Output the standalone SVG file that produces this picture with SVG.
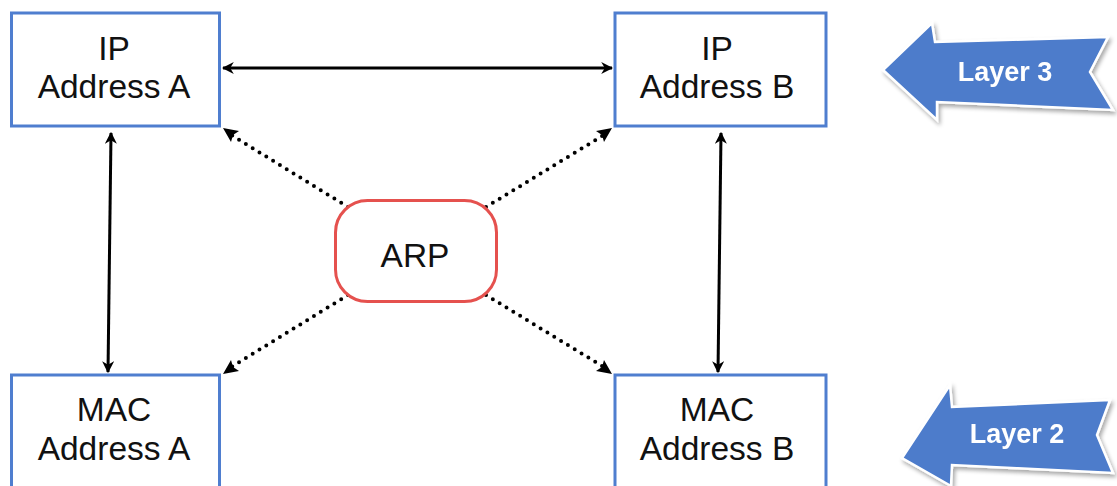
<svg xmlns="http://www.w3.org/2000/svg" width="1117" height="486" viewBox="0 0 1117 486">
  <defs>
    <marker id="ah" viewBox="0 0 10 10" refX="9" refY="5" markerWidth="4" markerHeight="4" orient="auto-start-reverse" markerUnits="strokeWidth">
      <path d="M0,0 L10,5 L0,10 L3,5 Z" fill="#000"/>
    </marker>
    <filter id="shadow" x="-10%" y="-20%" width="125%" height="150%">
      <feGaussianBlur in="SourceAlpha" stdDeviation="2"/>
      <feOffset dx="2" dy="3" result="b"/>
      <feComponentTransfer><feFuncA type="linear" slope="0.35"/></feComponentTransfer>
      <feMerge><feMergeNode/><feMergeNode in="SourceGraphic"/></feMerge>
    </filter>
  </defs>
  <style>
    .box { fill: #fff; stroke: #4F7ECF; stroke-width: 3; }
    .arp { fill: #fff; stroke: #E5514E; stroke-width: 3; }
    .lbl { font-family: "Liberation Sans", Arial, sans-serif; font-size: 33.5px; fill: #111; text-anchor: middle; }
    .layer { fill: #4D7CCB; stroke: #fff; stroke-width: 2.5; stroke-linejoin: miter; }
    .ltxt { font-family: "Liberation Sans", Arial, sans-serif; font-size: 27px; font-weight: bold; fill: #fff; text-anchor: middle; }
    .solid { stroke: #000; stroke-width: 3; fill: none; }
    .dot { stroke: #000; stroke-width: 4; fill: none; stroke-dasharray: 0 8; stroke-linecap: round; }
  </style>

  <rect width="1117" height="486" fill="#fff"/>

  <!-- connectors -->
  <g id="connectors">
    <line class="solid" x1="223" y1="68" x2="612" y2="68" marker-start="url(#ah)" marker-end="url(#ah)"/>
    <line class="solid" x1="111" y1="133" x2="108" y2="372" marker-start="url(#ah)" marker-end="url(#ah)"/>
    <line class="solid" x1="721" y1="133" x2="718" y2="372" marker-start="url(#ah)" marker-end="url(#ah)"/>
    <line class="dot" x1="348" y1="207" x2="228" y2="133"/>
    <line class="dot" x1="486" y1="207" x2="607" y2="133"/>
    <line class="dot" x1="348" y1="295" x2="228" y2="369"/>
    <line class="dot" x1="486" y1="295" x2="607" y2="369"/>
    <!-- arrowheads on the dotted links -->
    <path d="M223,128 L239,131 L233,135 L231,142 Z" fill="#000"/>
    <path d="M612,128 L596,131 L602,135 L604,142 Z" fill="#000"/>
    <path d="M223,374 L239,371 L233,367 L231,360 Z" fill="#000"/>
    <path d="M612,374 L596,371 L602,367 L604,360 Z" fill="#000"/>
  </g>

  <g id="ip-a">
    <rect class="box" x="11.5" y="13" width="208" height="113"/>
    <text class="lbl" x="114" y="60">IP</text>
    <text class="lbl" x="114" y="98">Address A</text>
  </g>

  <g id="ip-b">
    <rect class="box" x="615" y="13" width="211" height="113"/>
    <text class="lbl" x="717" y="60">IP</text>
    <text class="lbl" x="717" y="98">Address B</text>
  </g>

  <g id="mac-a">
    <rect class="box" x="11.5" y="375" width="208" height="125"/>
    <text class="lbl" x="114" y="421">MAC</text>
    <text class="lbl" x="114" y="460">Address A</text>
  </g>

  <g id="mac-b">
    <rect class="box" x="615" y="375" width="211" height="125"/>
    <text class="lbl" x="717" y="421">MAC</text>
    <text class="lbl" x="717" y="460">Address B</text>
  </g>

  <g id="arp">
    <rect class="arp" x="335.5" y="200.5" width="161" height="101" rx="32" ry="32"/>
    <text class="lbl" x="415" y="267">ARP</text>
  </g>

  <g id="layer3" filter="url(#shadow)">
    <polygon class="layer" points="883,70 932,23 935,42 1108,37 1090,72 1113,110 937,102 937,120"/>
    <text class="ltxt" x="1005" y="81">Layer 3</text>
  </g>

  <g id="layer2" filter="url(#shadow)">
    <polygon class="layer" points="902,458 950,385 952,407 1110,400 1097,435 1113,473 952,465 951,486"/>
    <text class="ltxt" x="1017" y="443">Layer 2</text>
  </g>
</svg>
